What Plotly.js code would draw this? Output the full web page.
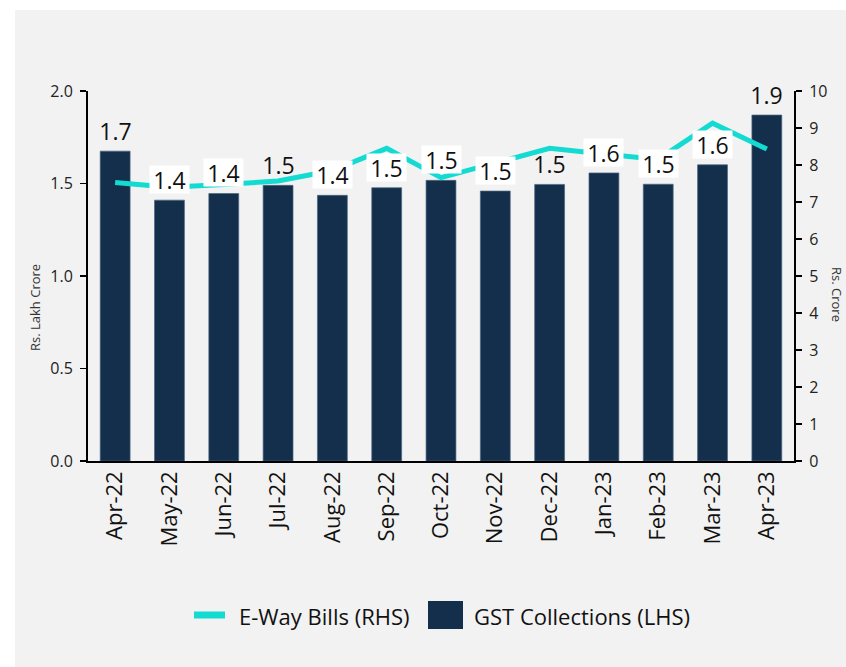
<!DOCTYPE html>
<html>
<head>
<meta charset="utf-8">
<script src="https://cdn.plot.ly/plotly-3.0.1.min.js"></script>
<style>
  html, body { margin: 0; padding: 0; background: #ffffff; width: 846px; height: 667px; overflow: hidden; }
  #chart { position: absolute; left: 15px; top: 10px; width: 831px; height: 657px; }
</style>
</head>
<body>
<div id="chart"></div>
<script>
// ---- data ----
const months = ["Apr-22","May-22","Jun-22","Jul-22","Aug-22","Sep-22","Oct-22","Nov-22","Dec-22","Jan-23","Feb-23","Mar-23","Apr-23"];
const gstCollections = [1.675, 1.41, 1.446, 1.49, 1.436, 1.477, 1.517, 1.459, 1.495, 1.557, 1.496, 1.601, 1.87]; // Rs. Lakh Crore (LHS)
const ewayBills = [7.53, 7.40, 7.47, 7.57, 7.85, 8.45, 7.66, 8.04, 8.45, 8.30, 8.15, 9.13, 8.43]; // Rs. Crore (RHS)
const leftTicks = [0, 0.5, 1.0, 1.5, 2.0];
const rightTicks = [0,1,2,3,4,5,6,7,8,9,10];
const seriesNames = ["E-Way Bills (RHS)", "GST Collections (LHS)"];
const leftTitle = "Rs. Lakh Crore";
const rightTitle = "Rs. Crore";

// ---- styles ----
const labelBoxed = [false,true,true,false,true,true,true,true,false,true,true,true,false];
const FONT = "'Open Sans', 'Noto Sans', sans-serif";
const barColor = "#132f4b";
const lineColor = "#14dbd2";

const W = 831, H = 657;
const M = {l:73, r:52, t:81, b:206};
const PW = W - M.l - M.r, PH = H - M.t - M.b;
const px = x => (x - M.l) / PW;
const py = y => (H - M.b - y) / PH;

const traces = [
  {
    type: "bar", x: months, y: gstCollections, name: seriesNames[1], yaxis: "y",
    marker: {color: barColor, line: {color: "#4a6583", width: 0.7}},
    hoverinfo: "skip", showlegend: false
  },
  {
    type: "scatter", mode: "lines", x: months, y: ewayBills, name: seriesNames[0], yaxis: "y2",
    line: {color: lineColor, width: 5},
    hoverinfo: "skip", showlegend: false
  }
];

const annotations = gstCollections.map((v, i) => ({
  x: months[i], y: v, xref: "x", yref: "y",
  text: v.toFixed(1), showarrow: false,
  yanchor: "bottom", xanchor: "center", yshift: 6,
  width: 37, height: 25, borderpad: 1, valign: "middle",
  bgcolor: labelBoxed[i] ? "#ffffff" : "rgba(0,0,0,0)",
  font: {family: FONT, size: 23, color: "#111111"}
}));

// axis titles
annotations.push({
  xref: "paper", yref: "paper", x: px(20), y: py(297),
  text: leftTitle, textangle: -90, showarrow: false,
  xanchor: "center", yanchor: "middle",
  font: {family: FONT, size: 13, color: "#333333"}
});
annotations.push({
  xref: "paper", yref: "paper", x: px(822), y: py(285),
  text: rightTitle, textangle: 90, showarrow: false,
  xanchor: "center", yanchor: "middle",
  font: {family: FONT, size: 13, color: "#333333"}
});
// legend texts
annotations.push({
  xref: "paper", yref: "paper", x: px(222), y: py(606),
  text: seriesNames[0], showarrow: false, xanchor: "left", yanchor: "middle",
  font: {family: FONT, size: 22, color: "#111111"}
});
annotations.push({
  xref: "paper", yref: "paper", x: px(457), y: py(606),
  text: seriesNames[1], showarrow: false, xanchor: "left", yanchor: "middle",
  font: {family: FONT, size: 22, color: "#111111"}
});

const shapes = [
  {type: "line", xref: "paper", yref: "paper", x0: px(179), x1: px(210), y0: py(605), y1: py(605),
   line: {color: lineColor, width: 7}},
  {type: "rect", xref: "paper", yref: "paper", x0: px(413), x1: px(448), y0: py(591), y1: py(619),
   fillcolor: barColor, line: {width: 0}}
];

const axisCommon = {
  showline: true, linecolor: "#000000", linewidth: 2,
  ticks: "outside", ticklen: 6, tickwidth: 1.5, tickcolor: "#000000",
  showgrid: false, zeroline: false, fixedrange: true,
  tickfont: {family: FONT, size: 16, color: "#222222"}
};

const layout = {
  width: W, height: H, margin: M,
  paper_bgcolor: "#f2f2f2", plot_bgcolor: "rgba(0,0,0,0)",
  font: {family: FONT},
  showlegend: false,
  bargap: 0.45,
  xaxis: {
    type: "category", range: [-0.5, 12.5], showline: true, linecolor: "#000000", linewidth: 1.5,
    ticks: "", tickangle: -90, showgrid: false, zeroline: false, fixedrange: true,
    tickfont: {family: FONT, size: 22, color: "#111111"}
  },
  yaxis: Object.assign({}, axisCommon, {
    range: [0, 2], tickvals: leftTicks, ticktext: leftTicks.map(v => v.toFixed(1)), ticklabelstandoff: 4
  }),
  yaxis2: Object.assign({}, axisCommon, {
    range: [0, 10], tickvals: rightTicks, ticktext: rightTicks.map(String),
    overlaying: "y", side: "right", ticklabelstandoff: 4
  }),
  annotations: annotations,
  shapes: shapes
};

Plotly.newPlot("chart", traces, layout, {displayModeBar: false, staticPlot: true});
</script>
</body>
</html>
